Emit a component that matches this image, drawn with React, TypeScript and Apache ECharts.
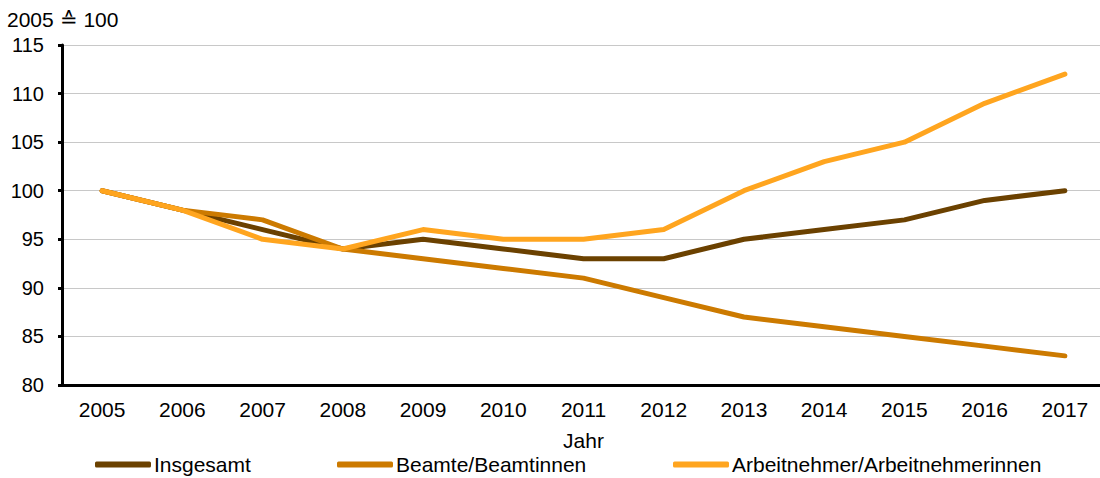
import React, { useEffect, useRef } from "react";
import * as echarts from "echarts";

const years = ["2005", "2006", "2007", "2008", "2009", "2010", "2011", "2012", "2013", "2014", "2015", "2016", "2017"];
const insgesamt = [100, 98, 96, 94, 95, 94, 93, 93, 95, 96, 97, 99, 100];
const beamte = [100, 98, 97, 94, 93, 92, 91, 89, 87, 86, 85, 84, 83];
const arbeitnehmer = [100, 98, 95, 94, 96, 95, 95, 96, 100, 103, 105, 109, 112];
const seriesNames = ["Insgesamt", "Beamte/Beamtinnen", "Arbeitnehmer/Arbeitnehmerinnen"];
const colors = ["#6b4100", "#cc7a00", "#ffa51f"];

const FONT = "'Liberation Sans', Arial, sans-serif";

export default function App() {
  const ref = useRef<HTMLDivElement>(null);
  useEffect(() => {
    if (!ref.current) return;
    const chart = echarts.init(ref.current, undefined, { renderer: "svg" });
    const dataSets = [insgesamt, beamte, arbeitnehmer];
    const legendLefts = [95, 337, 673];
    chart.setOption({
      animation: false,
      textStyle: { fontFamily: FONT },
      grid: { left: 62, width: 1043, top: 45, height: 340, containLabel: false },
      graphic: [
        {
          type: "text",
          left: 7,
          top: 9,
          style: { text: "2005 ≙ 100", font: `21px ${FONT}`, fill: "#000" },
        },
      ],
      legend: seriesNames.map((n, i) => ({
        data: [n],
        left: legendLefts[i],
        top: 454,
        padding: 0,
        itemWidth: 56,
        itemHeight: 6,
        icon: "roundRect",
        textStyle: { fontSize: 21, color: "#000", fontFamily: FONT, padding: [0, 0, 0, -2] },
      })),
      xAxis: {
        type: "category",
        data: years,
        boundaryGap: true,
        name: "Jahr",
        nameLocation: "middle",
        nameGap: 45,
        nameTextStyle: { fontSize: 21, color: "#000", fontFamily: FONT },
        axisLine: { lineStyle: { color: "#000", width: 3 } },
        axisTick: { alignWithLabel: true, length: 3, lineStyle: { color: "#000", width: 3 } },
        axisLabel: { fontSize: 21, color: "#000", margin: 14, fontFamily: FONT },
        splitLine: { show: false },
      },
      yAxis: {
        type: "value",
        min: 80,
        max: 115,
        interval: 5,
        axisLine: { show: true, lineStyle: { color: "#000", width: 3 } },
        axisTick: { show: true, length: 4, lineStyle: { color: "#000", width: 3 } },
        axisLabel: { fontSize: 20, color: "#000", margin: 18, fontFamily: FONT },
        splitLine: { lineStyle: { color: "#c8c8c8", width: 1 } },
      },
      series: seriesNames.map((n, i) => ({
        name: n,
        type: "line",
        data: dataSets[i],
        symbol: "none",
        color: colors[i],
        lineStyle: { width: 5, color: colors[i], cap: "round", join: "round" },
        itemStyle: { color: colors[i] },
      })),
    });
    return () => chart.dispose();
  }, []);
  return (
    <div style={{ position: "absolute", left: 0, top: 0, width: 1100, height: 478, overflow: "hidden" }}>
      <div ref={ref} style={{ position: "absolute", left: 0, top: 0, width: 1120, height: 478 }} />
    </div>
  );
}
